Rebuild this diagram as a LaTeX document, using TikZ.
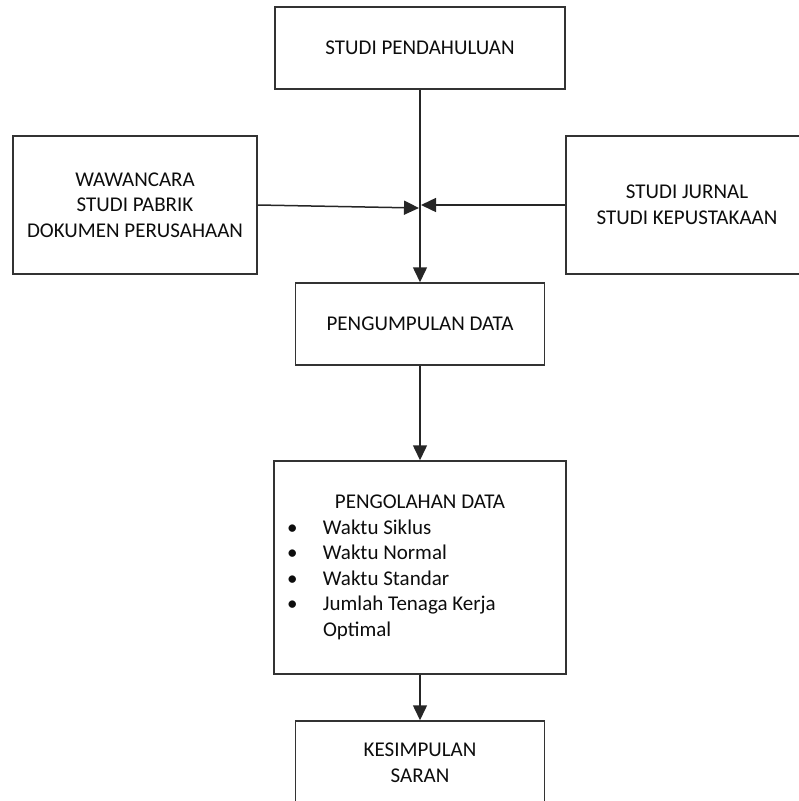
\documentclass[tikz,border=0pt]{standalone}
\usepackage{fontspec}
\setmainfont{Carlito}
\usetikzlibrary{arrows.meta,positioning}

\begin{document}
\begin{tikzpicture}[x=1pt,y=-1pt,
    box/.style={draw=black!80,line width=1.5pt,rectangle,inner sep=0pt,align=center,
        text=black!95,font=\fontsize{21}{25.5}\selectfont},
    flow/.style={draw=black!85,line width=1.5pt,-{Triangle[length=15pt,width=14pt]}}]
    % frame, 799 x 801, bottom box runs off the page
    \useasboundingbox (0,0) rectangle (799,801);
    \clip (0,0) rectangle (799,801);

    % top box
    \node[box,minimum width=290pt,minimum height=82pt] (studi) at (420,48) {STUDI PENDAHULUAN};
    % side boxes, right one cut by the edge
    \node[box,minimum width=244pt,minimum height=138pt] (wawan) at (135,205)
        {WAWANCARA\\STUDI PABRIK\\DOKUMEN PERUSAHAAN};
    \node[box,minimum width=242pt,minimum height=138pt] (jurnal) at (687,205)
        {STUDI JURNAL\\STUDI KEPUSTAKAAN};
    % where both side arrows meet the main line
    \coordinate (jl) at (419,208);
    \coordinate (jr) at (421,205);

    % data boxes
    \node[box,minimum width=249pt,minimum height=82pt] (kumpul) at (420,324) {PENGUMPULAN DATA};
    \node[box,minimum width=292pt,minimum height=213pt] (olah) at (420,567.5)
        {\parbox{292pt}{\centering PENGOLAHAN DATA\par\raggedright
        \hspace*{13pt}\makebox[36pt][l]{\textbullet}Waktu Siklus\par
        \hspace*{13pt}\makebox[36pt][l]{\textbullet}Waktu Normal\par
        \hspace*{13pt}\makebox[36pt][l]{\textbullet}Waktu Standar\par
        \hspace*{13pt}\makebox[36pt][l]{\textbullet}Jumlah Tenaga Kerja\par
        \hspace*{49pt}Optimal}};
    \node[box,minimum width=249pt,minimum height=83pt] (simpul) at (420,762.5) {KESIMPULAN\\SARAN};

    % main line down
    \draw[flow] (studi) -- (kumpul);
    \draw[flow] (kumpul) -- (olah);
    \draw[flow] (olah) -- (simpul);
    % side inputs
    \draw[flow] (wawan.east) -- (jl);
    \draw[flow] (jurnal.west) -- (jr);
\end{tikzpicture}
\end{document}
